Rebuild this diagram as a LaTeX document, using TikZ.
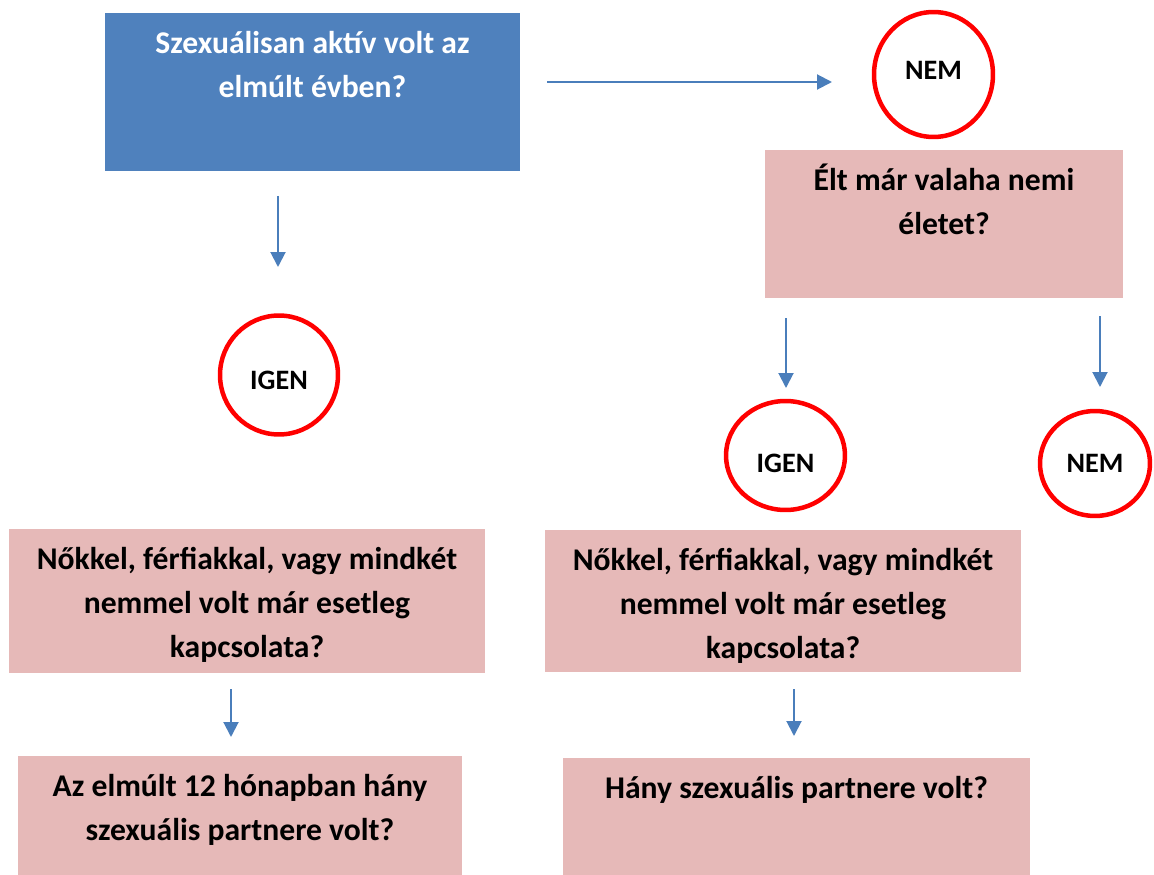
\documentclass[tikz,border=0pt]{standalone}
\usepackage{fontspec}
\setmainfont{Carlito}
\usetikzlibrary{shapes.geometric,arrows.meta}
\definecolor{boxblue}{HTML}{4F81BD}
\definecolor{boxpink}{HTML}{E6B9B8}
\definecolor{arrowblue}{HTML}{4A7EBB}
\newcommand{\qstrut}{\rule{0pt}{18pt}}

\begin{document}
\begin{tikzpicture}[x=0.02cm,y=-0.02cm,
    qbox/.style={rectangle,inner sep=0pt,fill=boxpink},
    qtext/.style={anchor=north,inner sep=0pt,align=center,font=\fontsize{18}{25}\selectfont\bfseries},
    answer/.style={ellipse,draw=red,line width=0.09cm,inner sep=0pt,font=\fontsize{16}{19}\selectfont\bfseries},
    flow/.style={-{Triangle[length=0.3cm,width=0.3cm]},line width=0.04cm,arrowblue}]
        \useasboundingbox (0,0) rectangle (1154,875);
        % question boxes
        \node[qbox,fill=boxblue,minimum width=8.3cm,minimum height=3.16cm] (active) at (312.5,92) {};
        \node[qbox,minimum width=7.16cm,minimum height=2.96cm] (ever) at (944,224) {};
        \node[qbox,minimum width=9.52cm,minimum height=2.88cm] (genderL) at (247,601) {};
        \node[qbox,minimum width=9.52cm,minimum height=2.84cm] (genderR) at (783,601) {};
        \node[qbox,minimum width=8.88cm,minimum height=2.38cm] (countL) at (240,815.5) {};
        \node[qbox,minimum width=9.34cm,minimum height=2.34cm] (countR) at (796.5,816.5) {};
        \node[qtext,text=white] (activeq) at ([yshift=-5.3pt]active.north) {\qstrut Szexuálisan aktív volt az\\elmúlt évben?};
        \node[qtext] (everq) at ([yshift=-5.3pt]ever.north) {\qstrut Élt már valaha nemi\\életet?};
        \node[qtext] (genderLq) at ([yshift=-5.3pt]genderL.north) {\qstrut Nőkkel, férfiakkal, vagy mindkét\\nemmel volt már esetleg\\kapcsolata?};
        \node[qtext] (genderRq) at ([yshift=-5.3pt]genderR.north) {\qstrut Nőkkel, férfiakkal, vagy mindkét\\nemmel volt már esetleg\\kapcsolata?};
        \node[qtext] (countLq) at ([yshift=-5.3pt]countL.north) {\qstrut Az elmúlt 12 hónapban hány\\szexuális partnere volt?};
        \node[qtext] (countRq) at ([yshift=-5.3pt]countR.north) {\qstrut Hány szexuális partnere volt?};
        % answers
        \node[answer,minimum width=2.38cm,minimum height=2.5cm,text height=10.3pt,text depth=5pt] (nemA) at (933.5,74.5) {NEM};
        \node[answer,minimum width=2.36cm,minimum height=2.38cm,text height=16pt,text depth=0pt] (igenA) at (279,375) {IGEN};
        \node[answer,minimum width=2.38cm,minimum height=2.18cm,text height=19pt,text depth=0pt] (igenB) at (785.5,455.5) {IGEN};
        \node[answer,minimum width=2.2cm,minimum height=2.1cm] (nemB) at (1095,463.5) {NEM};
        % arrows
        \coordinate (a1) at (547,82);
        \coordinate (b1) at (832,82);
        \coordinate (a2) at (278,196);
        \coordinate (b2) at (278,267);
        \coordinate (a3) at (786,318);
        \coordinate (b3) at (786,388);
        \coordinate (a4) at (1100,316);
        \coordinate (b4) at (1100,387);
        \coordinate (a5) at (231,689);
        \coordinate (b5) at (231,737);
        \coordinate (a6) at (794,689);
        \coordinate (b6) at (794,736);
        \draw[flow] (a1) -- (b1);
        \draw[flow] (a2) -- (b2);
        \draw[flow] (a3) -- (b3);
        \draw[flow] (a4) -- (b4);
        \draw[flow] (a5) -- (b5);
        \draw[flow] (a6) -- (b6);
    \end{tikzpicture}
\end{document}
